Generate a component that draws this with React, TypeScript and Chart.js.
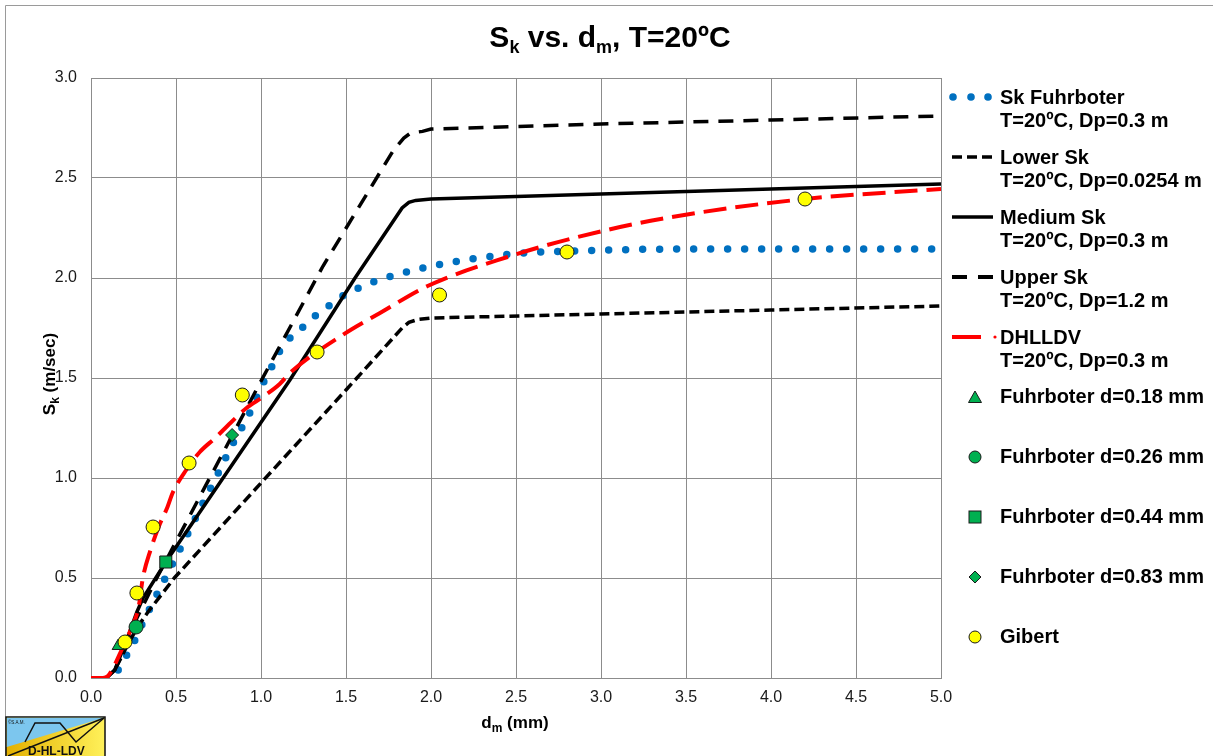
import React, { useEffect, useRef } from "react";
import { Chart, registerables } from "chart.js";
Chart.register(...registerables);

// ---- data (d_m in mm, S_k in m/s) ----
const fuhrX = [0.16, 0.2, 0.25, 0.29, 0.38, 0.47, 0.56, 0.65, 0.74, 0.83, 0.925, 1.01, 1.06, 1.1, 1.16, 1.24, 1.31, 1.39, 1.48, 1.56, 1.66, 1.75, 1.95, 2.24, 2.54, 2.84, 3.5, 4.0, 5.0];
const fuhrY = [0.04, 0.1, 0.175, 0.25, 0.405, 0.555, 0.705, 0.86, 1.01, 1.165, 1.31, 1.47, 1.55, 1.62, 1.69, 1.75, 1.805, 1.855, 1.91, 1.945, 1.98, 2.005, 2.05, 2.095, 2.125, 2.135, 2.145, 2.145, 2.145];

const lowerX = [0, 0.09, 0.14, 0.2, 0.27, 0.335, 0.49, 1.0, 1.5, 1.83, 1.87, 1.92, 2.0, 3.0, 4.0, 5.0];
const lowerY = [0, 0, 0.04, 0.14, 0.25, 0.33, 0.5, 0.975, 1.44, 1.75, 1.778, 1.792, 1.8, 1.82, 1.84, 1.86];

const mediumX = [0, 0.09, 0.14, 0.21, 0.27, 0.306, 0.44, 1.17, 1.553, 1.83, 1.87, 1.91, 2.0, 3.0, 4.0, 5.0];
const mediumY = [0, 0, 0.04, 0.19, 0.33, 0.4, 0.58, 1.49, 2.0, 2.35, 2.378, 2.388, 2.395, 2.42, 2.445, 2.47];

const upperX = [0, 0.09, 0.14, 0.2, 0.27, 0.39, 0.994, 1.365, 1.78, 1.84, 1.88, 1.95, 2.0, 3.0, 4.0, 5.0];
const upperY = [0, 0, 0.04, 0.15, 0.3, 0.505, 1.475, 2.06, 2.64, 2.7, 2.725, 2.733, 2.745, 2.77, 2.79, 2.81];

const dhlldvX = [0, 0.07, 0.1, 0.13, 0.18, 0.24, 0.28, 0.305, 0.35, 0.4, 0.45, 0.48, 0.56, 0.64, 0.73, 0.82, 0.915, 1.01, 1.11, 1.17, 1.48, 1.7, 1.98, 2.45, 2.84, 3.35, 4.2, 5.0];
const dhlldvY = [0, 0, 0.01, 0.05, 0.14, 0.255, 0.355, 0.5, 0.64, 0.76, 0.855, 0.925, 1.04, 1.13, 1.2, 1.275, 1.35, 1.405, 1.47, 1.525, 1.715, 1.825, 1.96, 2.105, 2.2, 2.295, 2.395, 2.445];

const f018X = [0.16];
const f018Y = [0.16];
const f026X = [0.265];
const f026Y = [0.255];
const f044X = [0.44];
const f044Y = [0.58];
const f083X = [0.83];
const f083Y = [1.215];

const gibertX = [0.2, 0.27, 0.365, 0.577, 0.89, 1.33, 2.05, 2.8, 4.2];
const gibertY = [0.18, 0.425, 0.755, 1.075, 1.415, 1.63, 1.915, 2.13, 2.395];

const xTickStep = 0.5;
const yTickStep = 0.5;

const FONT = "'Liberation Sans', Arial, Helvetica, sans-serif";
const GRID = "#8c8c8c";
const GREEN = "#00b050";
const BLUE = "#0070c0";
const RED = "#ff0000";

function pts(xs: number[], ys: number[]) {
  return xs.map((x, i) => ({ x, y: ys[i] }));
}

export default function App() {
  const ref = useRef<HTMLCanvasElement>(null);

  useEffect(() => {
    const line = (label: string, xs: number[], ys: number[], extra: any) => ({
      label,
      data: pts(xs, ys),
      showLine: true,
      pointRadius: 0,
      pointHoverRadius: 0,
      tension: 0,
      fill: false,
      ...extra,
    });
    const marker = (label: string, xs: number[], ys: number[], extra: any) => ({
      label,
      data: pts(xs, ys),
      showLine: false,
      borderColor: "#1a1a1a",
      borderWidth: 1,
      ...extra,
    });

    const chart = new Chart(ref.current!, {
      type: "scatter",
      data: {
        datasets: [
          line("Sk Fuhrboter T=20ºC, Dp=0.3 m", fuhrX, fuhrY, {
            borderColor: BLUE,
            borderWidth: 7.5,
            borderDash: [0, 17],
            borderCapStyle: "round",
            cubicInterpolationMode: "monotone",
            order: 6,
          }),
          line("Lower Sk T=20ºC, Dp=0.0254 m", lowerX, lowerY, {
            borderColor: "#000",
            borderWidth: 3.5,
            borderDash: [10, 5],
            order: 5,
          }),
          line("Medium Sk T=20ºC, Dp=0.3 m", mediumX, mediumY, {
            borderColor: "#000",
            borderWidth: 3.5,
            order: 4,
          }),
          line("Upper Sk T=20ºC, Dp=1.2 m", upperX, upperY, {
            borderColor: "#000",
            borderWidth: 3.5,
            borderDash: [15, 10],
            order: 3,
          }),
          line("DHLLDV T=20ºC, Dp=0.3 m", dhlldvX, dhlldvY, {
            borderColor: RED,
            borderWidth: 4,
            borderDash: [23, 9],
            cubicInterpolationMode: "monotone",
            order: 2,
          }),
          marker("Fuhrboter d=0.18 mm", f018X, f018Y, { pointStyle: "triangle", pointRadius: 7, backgroundColor: GREEN, order: 1 }),
          marker("Fuhrboter d=0.26 mm", f026X, f026Y, { pointStyle: "circle", pointRadius: 7, backgroundColor: GREEN, order: 1 }),
          marker("Fuhrboter d=0.44 mm", f044X, f044Y, { pointStyle: "rect", pointRadius: 8.5, backgroundColor: GREEN, order: 1 }),
          marker("Fuhrboter d=0.83 mm", f083X, f083Y, { pointStyle: "rectRot", pointRadius: 6.5, backgroundColor: GREEN, order: 1 }),
          marker("Gibert", gibertX, gibertY, { pointStyle: "circle", pointRadius: 7, backgroundColor: "#ffff00", order: 0 }),
        ],
      },
      options: {
        animation: false,
        responsive: false,
        layout: { padding: { left: 0, top: 78, right: 272, bottom: 0 } },
        plugins: {
          legend: { display: false },
          title: { display: false },
          tooltip: { enabled: false },
        },
        scales: {
          x: {
            type: "linear",
            min: 0,
            max: 5,
            afterFit: (s: any) => {
              s.height = 78;
            },
            grid: { color: GRID, lineWidth: 1, drawTicks: false },
            border: { color: GRID, width: 1 },
            ticks: {
              stepSize: xTickStep,
              padding: 10,
              autoSkip: false,
              maxRotation: 0,
              color: "#1a1a1a",
              font: { family: FONT, size: 16 },
              callback: (v: any) => Number(v).toFixed(1),
            },
          },
          y: {
            type: "linear",
            min: 0,
            max: 3,
            afterFit: (s: any) => {
              s.width = 91;
            },
            grid: { color: GRID, lineWidth: 1, drawTicks: false },
            border: { color: GRID, width: 1 },
            ticks: {
              stepSize: yTickStep,
              padding: 14,
              color: "#1a1a1a",
              font: { family: FONT, size: 16 },
              callback: (v: any) => Number(v).toFixed(1),
            },
          },
        },
      },
    } as any);
    return () => chart.destroy();
  }, []);

  const legendText = [
    ["Sk Fuhrboter", "T=20ºC, Dp=0.3 m"],
    ["Lower Sk", "T=20ºC, Dp=0.0254 m"],
    ["Medium Sk", "T=20ºC, Dp=0.3 m"],
    ["Upper Sk", "T=20ºC, Dp=1.2 m"],
    ["DHLLDV", "T=20ºC, Dp=0.3 m"],
  ];
  const markerText = [
    "Fuhrboter d=0.18 mm",
    "Fuhrboter d=0.26 mm",
    "Fuhrboter d=0.44 mm",
    "Fuhrboter d=0.83 mm",
    "Gibert",
  ];

  return (
    <div style={{ position: "absolute", left: 0, top: 0, width: 1213, height: 756, overflow: "hidden", background: "#fff" }}>
      <canvas ref={ref} width={1213} height={756} style={{ position: "absolute", left: 0, top: 0, width: 1213, height: 756 }} />
      <svg width={1213} height={756} style={{ position: "absolute", left: 0, top: 0, pointerEvents: "none" }} fontFamily={FONT}>
        {/* outer frame */}
        <polyline points="5.5,756 5.5,5.5 1213,5.5" fill="none" stroke="#9a9a9a" strokeWidth={1} />
        {/* title */}
        <text x={610} y={47} textAnchor="middle" fontSize={30} fontWeight="bold" fill="#000">
          S<tspan fontSize={18} dy={6}>k</tspan>
          <tspan dy={-6}> vs. d</tspan>
          <tspan fontSize={18} dy={6}>m</tspan>
          <tspan dy={-6}>, T=20ºC</tspan>
        </text>
        {/* y axis title */}
        <text transform="translate(55,374) rotate(-90)" textAnchor="middle" fontSize={17} fontWeight="bold" fill="#000">
          S<tspan fontSize={12} dy={4}>k</tspan>
          <tspan dy={-4}> (m/sec)</tspan>
        </text>
        {/* x axis title */}
        <text x={515} y={728} textAnchor="middle" fontSize={17} fontWeight="bold" fill="#000">
          d<tspan fontSize={12} dy={4}>m</tspan>
          <tspan dy={-4}> (mm)</tspan>
        </text>

        {/* legend: line series */}
        <circle cx={953} cy={97} r={3.8} fill={BLUE} />
        <circle cx={971} cy={97} r={3.8} fill={BLUE} />
        <circle cx={988} cy={97} r={3.8} fill={BLUE} />
        <line x1={952} x2={993} y1={157} y2={157} stroke="#000" strokeWidth={3.5} strokeDasharray="10 5" />
        <line x1={952} x2={993} y1={217} y2={217} stroke="#000" strokeWidth={3.5} />
        <line x1={952} x2={993} y1={277} y2={277} stroke="#000" strokeWidth={4} strokeDasharray="15 11" />
        <line x1={952} x2={981} y1={337} y2={337} stroke={RED} strokeWidth={4} />
        <circle cx={995} cy={337} r={1.6} fill={RED} />
        {legendText.map((t, i) => (
          <g key={i} fontSize={20} fontWeight="bold" fill="#000">
            <text x={1000} y={104 + i * 60}>{t[0]}</text>
            <text x={1000} y={127 + i * 60}>{t[1]}</text>
          </g>
        ))}

        {/* legend: markers */}
        <polygon points="975,391 981.5,402.5 968.5,402.5" fill={GREEN} stroke="#1a1a1a" strokeWidth={1} />
        <circle cx={975} cy={457} r={6} fill={GREEN} stroke="#1a1a1a" strokeWidth={1} />
        <rect x={969} y={511} width={12} height={12} fill={GREEN} stroke="#1a1a1a" strokeWidth={1} />
        <polygon points="975,571 981,577 975,583 969,577" fill={GREEN} stroke="#1a1a1a" strokeWidth={1} />
        <circle cx={975} cy={637} r={6} fill="#ffff00" stroke="#1a1a1a" strokeWidth={1} />
        {markerText.map((t, i) => (
          <text key={i} x={1000} y={403 + i * 60} fontSize={20} fontWeight="bold" fill="#000">
            {t}
          </text>
        ))}

        {/* logo */}
        <defs>
          <linearGradient id="lg" x1="0" x2="1" y1="0" y2="0">
            <stop offset="0" stopColor="#e3b000" />
            <stop offset="1" stopColor="#fff15a" />
          </linearGradient>
        </defs>
        <rect x={6} y={717} width={99} height={45} fill="url(#lg)" stroke="#111" strokeWidth={1.5} />
        <polygon points="6.8,717.8 104.2,717.8 6.8,747" fill="#7cc6ee" />
        <polyline points="8,756 104,718" fill="none" stroke="#111" strokeWidth={1.5} />
        <polyline points="25,742 35,723 60,723 76,742 104,718" fill="none" stroke="#111" strokeWidth={1.5} />
        <text x={8} y={724} fontSize={4.5} fill="#111">©S.A.M.</text>
        <text x={28} y={755} fontSize={12} fontWeight="bold" fill="#111">D-HL-LDV</text>
      </svg>
    </div>
  );
}
